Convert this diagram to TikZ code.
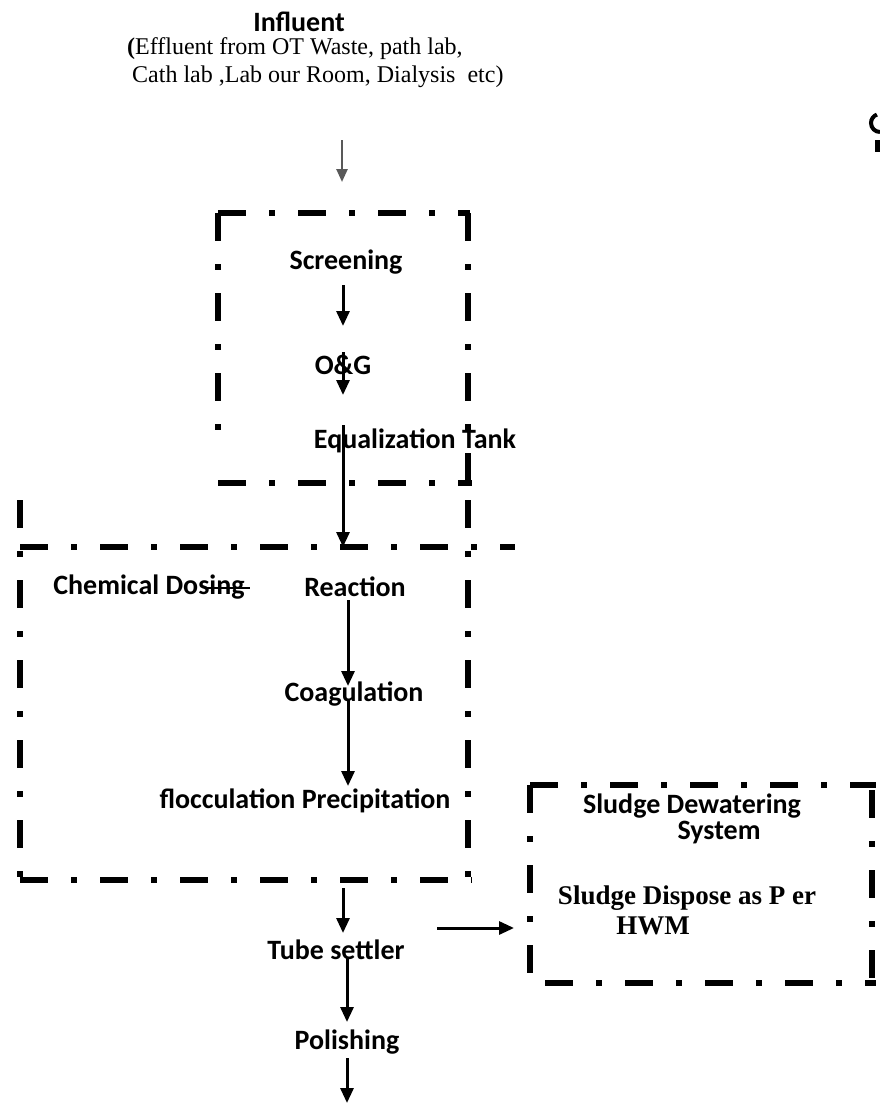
\documentclass[tikz,border=0pt]{standalone}
\usepackage{fontspec}
\setmainfont{Liberation Serif}
\newfontfamily\carl{Carlito}
\usetikzlibrary{arrows.meta}
\begin{document}
\begin{tikzpicture}[x=1pt,y=-1pt,
  cb/.style={inner sep=0pt, font=\carl\bfseries\fontsize{28}{30}\selectfont},
  tbx/.style={inner sep=0pt, font=\bfseries\fontsize{27}{34}\selectfont},
  trm/.style={inner sep=0pt, font=\fontsize{24}{28}\selectfont},
  flow/.style={line width=3pt, -{Triangle[length=15pt,width=13pt]}},
  gflow/.style={line width=2.5pt, draw=black!65, -{Triangle[length=13pt,width=11pt]}},
  strike/.style={line width=2pt},
  dd/.style={line width=5.5pt, line cap=butt, dash pattern=on 28pt off 23pt on 6pt off 23pt}]
\useasboundingbox (0,0) rectangle (880,1105);
\fill[white] (0,0) rectangle (880,1105);

% top texts
\node[cb] (infl) at (299,22) {Influent};
\node[trm, anchor=west, align=left] (src) at (127,63) {{\bfseries(}Effluent from OT Waste, path lab,\\\hspace{5pt}Cath lab ,Lab our Room, Dialysis\ \ etc)};

% box 1
\draw[dd] (218,213) -- (470,213);
\draw[dd] (218,213) -- (218,440);
\draw[dd] (468,213) -- (468,483);
\draw[dd] (218,483) -- (472,483);

% box 2
\draw[dd] (20,500) -- (20,890);
\draw[dd] (20,547) -- (515,547);
\draw[dd] (468,500) -- (468,880);
\draw[dd] (20,880) -- (472,880);

% box 3
\draw[dd] (530,785) -- (876,785);
\draw[dd] (530,785) -- (530,986);
\draw[dd] (872,790) -- (872,986);
\draw[dd] (545,983) -- (876,983);

% process texts
\node[cb] (scr) at (346,262) {Screening};
\node[cb] (og) at (343,365) {O\&G};
\node[cb] (eq) at (415,441) {Equalization Tank};
\node[cb] (chem) at (149,587) {Chemical Dosing};
\node[cb] (react) at (355,587) {Reaction};
\node[cb] (coag) at (354,694) {Coagulation};
\node[cb] (floc) at (305,801) {flocculation Precipitation};
\node[cb] (tube) at (336,950) {Tube settler};
\node[cb] (pol) at (347,1042) {Polishing};
\node[cb] (sdw) at (692,806) {Sludge Dewatering};
\node[cb] (sys) at (719,833) {System};
\node[tbx] (disp) at (687,898) {Sludge Dispose as P er};
\node[tbx] (hwm) at (653,926) {HWM};

% connector end points
\coordinate (a1s) at (342,140); \coordinate (a1e) at (342,182);
\coordinate (a2s) at (343,285); \coordinate (a2e) at (343,326);
\coordinate (a3s) at (343,352); \coordinate (a3e) at (343,395);
\coordinate (a4s) at (343,425); \coordinate (a4e) at (343,547);
\coordinate (a5s) at (348,600); \coordinate (a5e) at (348,686);
\coordinate (a6s) at (348,700); \coordinate (a6e) at (348,786);
\coordinate (a7s) at (343,888); \coordinate (a7e) at (343,933);
\coordinate (a8s) at (437,928); \coordinate (a8e) at (514,928);
\coordinate (a9s) at (347,958); \coordinate (a9e) at (347,1022);
\coordinate (a10s) at (347,1058); \coordinate (a10e) at (347,1103);
\coordinate (cds) at (206,588); \coordinate (cde) at (250,588);

\draw[gflow] (a1s) -- (a1e);
\draw[flow] (a2s) -- (a2e);
\draw[flow] (a3s) -- (a3e);
\draw[flow] (a4s) -- (a4e);
\draw[flow] (a5s) -- (a5e);
\draw[flow] (a6s) -- (a6e);
\draw[flow] (a7s) -- (a7e);
\draw[flow] (a8s) -- (a8e);
\draw[flow] (a9s) -- (a9e);
\draw[flow] (a10s) -- (a10e);
\draw[strike] (cds) -- (cde);

% scan artifact at right edge
\draw[line width=4pt] (880,132) arc[start angle=90, end angle=250, radius=9];
\fill (880,140) rectangle (875,152);
\end{tikzpicture}
\end{document}
